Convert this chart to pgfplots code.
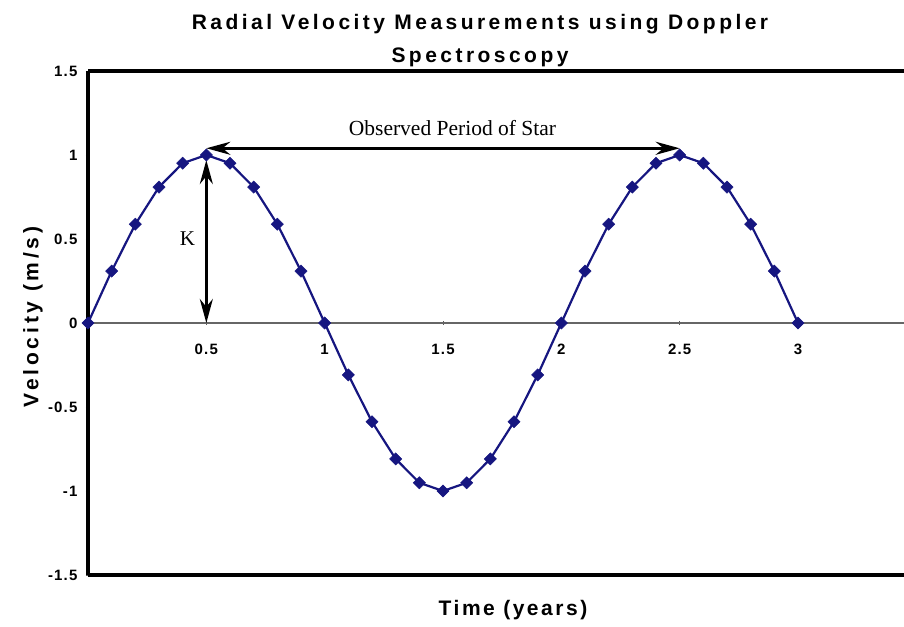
\documentclass[border=0pt]{standalone}
\usepackage{pgfplots}
\pgfplotsset{compat=1.18}
\usepackage{fontspec}
\setmainfont{Liberation Sans}
\newfontfamily\seriffont{Liberation Serif}
\newfontfamily\titlebf[LetterSpace=16.5]{Liberation Sans Bold}
\newfontfamily\ylabbf[LetterSpace=18]{Liberation Sans Bold}
\newfontfamily\xlabbf[LetterSpace=12]{Liberation Sans Bold}
\newfontfamily\ticksbf[LetterSpace=8]{Liberation Sans Bold}
\usetikzlibrary{arrows.meta}
\definecolor{navy}{RGB}{22,22,128}
\begin{document}
\begin{tikzpicture}
\begin{axis}[
  name=ax, at={(0,0)}, anchor=south west,
  scale only axis, width=848pt, height=504pt,
  xmin=0, xmax=3.5831, ymin=-1.5, ymax=1.5,
  axis x line=middle, axis y line=left,
  axis line style={-},
  x axis line style={draw=gray!80!black, line width=2pt},
  y axis line style={draw=black, line width=3.4pt},
  xtick={0.5,1,1.5,2,2.5,3},
  ytick={-1.5,-1,-0.5,0,0.5,1,1.5},
  xticklabels={0.5,1,1.5,2,2.5,3},
  yticklabels={-1.5,-1,-0.5,0,0.5,1,1.5},
  tick align=center, major tick length=4pt,
  tick style={gray!70!black, line width=0.8pt},
  /pgf/number format/assume math mode=true,
  ticklabel style={font=\ticksbf\fontsize{15}{15}\selectfont},
  xticklabel style={anchor=center, yshift=-24pt},
  yticklabel style={anchor=east, xshift=-5pt},
  clip=false,
]
\draw[line width=3.4pt] (rel axis cs:0,1) -- (rel axis cs:1,1);
\draw[line width=3.4pt] (rel axis cs:0,0) -- (rel axis cs:1,0);
\addplot[color=navy, line width=2.2pt, mark=square*, mark size=4.3pt, mark options={fill=navy, draw=navy, rotate=45, line width=0.5pt}]
coordinates {
(0,0) (0.1,0.309) (0.2,0.588) (0.3,0.809) (0.4,0.951) (0.5,1.0)
(0.6,0.951) (0.7,0.809) (0.8,0.588) (0.9,0.309) (1.0,0)
(1.1,-0.309) (1.2,-0.588) (1.3,-0.809) (1.4,-0.951) (1.5,-1.0)
(1.6,-0.951) (1.7,-0.809) (1.8,-0.588) (1.9,-0.309) (2.0,0)
(2.1,0.309) (2.2,0.588) (2.3,0.809) (2.4,0.951) (2.5,1.0)
(2.6,0.951) (2.7,0.809) (2.8,0.588) (2.9,0.309) (3.0,0)
};
\draw[{Stealth[length=24pt,width=13pt]}-{Stealth[length=24pt,width=13pt]}, line width=2.8pt]
  (axis cs:0.5,1.04) -- (axis cs:2.5,1.04);
\draw[{Stealth[length=24pt,width=13pt]}-{Stealth[length=24pt,width=13pt]}, line width=2.8pt]
  (axis cs:0.5,0.97) -- (axis cs:0.5,0.0);
\node[font=\seriffont\fontsize{21.5}{21.5}\selectfont] at (axis cs:1.54,1.16) {Observed Period of Star};
\node[font=\seriffont\fontsize{21}{21}\selectfont] at (axis cs:0.42,0.5) {K};
\coordinate (bl) at (rel axis cs:0,0);
\end{axis}
\node[font=\titlebf\fontsize{21}{33}\selectfont, align=center] at ([shift={(392pt,534pt)}]bl)
  {Radial Velocity Measurements using Doppler\\Spectroscopy};
\node[font=\ylabbf\fontsize{21}{21}\selectfont, rotate=90] at ([shift={(-55pt,258pt)}]bl) {Velocity (m/s)};
\node[font=\xlabbf\fontsize{21}{21}\selectfont] at ([shift={(425pt,-35pt)}]bl) {Time (years)};
\pgfresetboundingbox
\path ([shift={(-88pt,-51pt)}]bl) rectangle ([shift={(816pt,575pt)}]bl);
\end{tikzpicture}
\end{document}
